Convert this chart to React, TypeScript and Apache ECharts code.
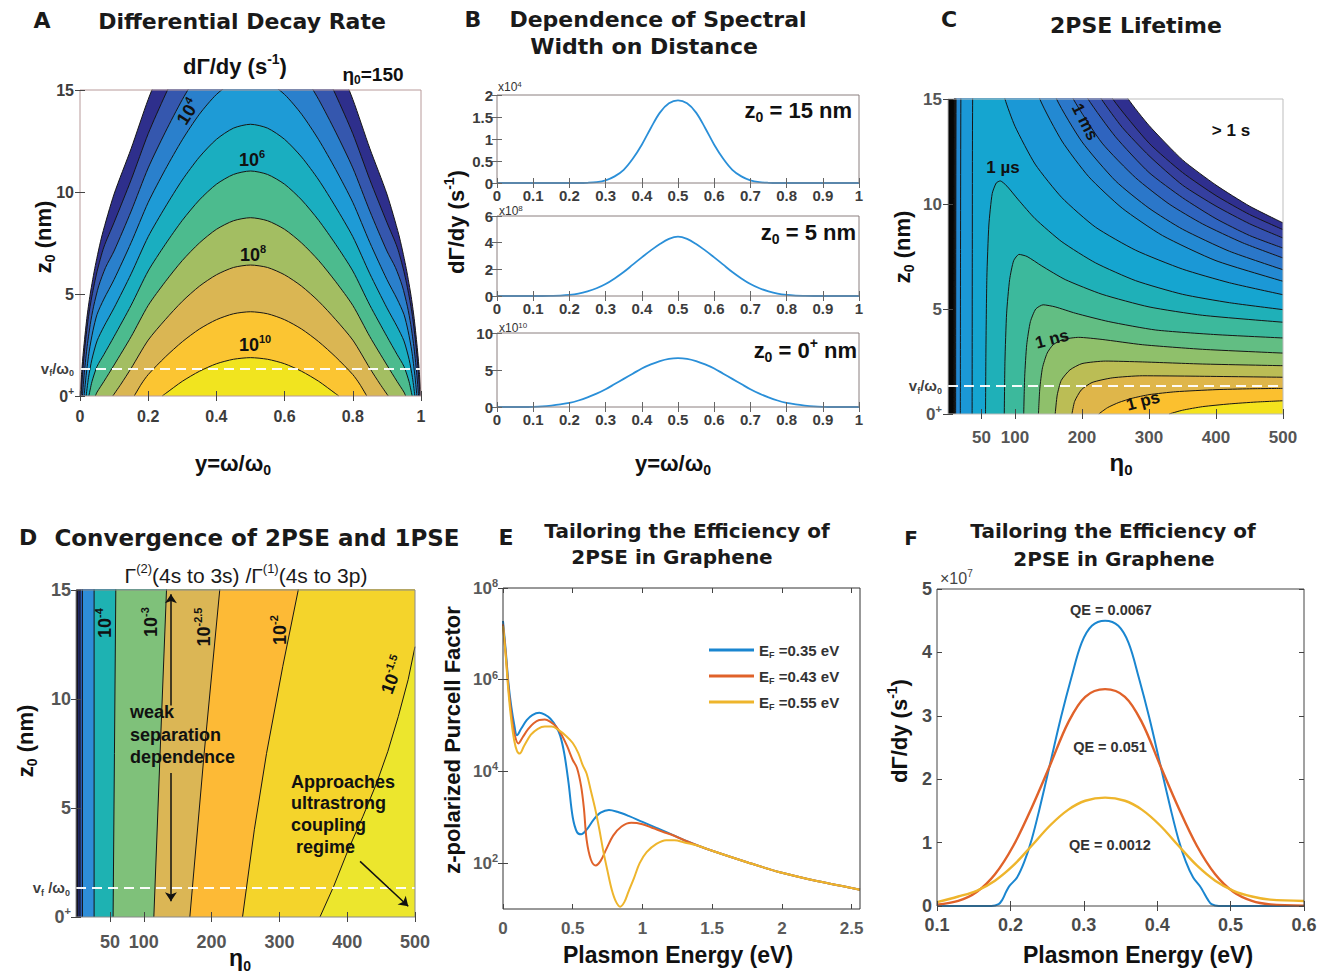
import React, { useEffect, useRef } from "react";
import * as echarts from "echarts";

const LAB = "'Liberation Sans', Arial, Helvetica, sans-serif";
const HEAVY = "'DejaVu Sans', 'Liberation Sans', Arial, sans-serif";

// ================= Panel A: contour lines of dΓ/dy, points [y=ω/ω0, z0 (nm)], outer (10^2) → inner =================
const aLine10 = [[0,0],[0.005,1.2],[0.01,2.2],[0.02,3.8],[0.03,5.0],[0.045,6.4],[0.065,7.9],[0.1,9.9],[0.15,12.13],[0.2,14.54],[0.25,16.59],[0.3,18.48],[0.35,20.11],[0.4,21.38],[0.45,22.2],[0.5,22.48],[0.55,22.2],[0.6,21.38],[0.65,20.11],[0.7,18.48],[0.75,16.59],[0.8,14.54],[0.85,12.13],[0.9,9.9],[0.935,7.9],[0.955,6.4],[0.97,5.0],[0.98,3.8],[0.99,2.2],[0.995,1.2],[1,0]];
const aLine9 = [[0.003,0],[0.008,1.2],[0.015,2.5],[0.025,3.9],[0.035,4.9],[0.05,6.1],[0.07,7.3],[0.1,8.51],[0.15,10.6],[0.2,12.86],[0.25,14.76],[0.3,16.51],[0.35,18.01],[0.4,19.18],[0.45,19.93],[0.5,20.19],[0.55,19.93],[0.6,19.18],[0.65,18.01],[0.7,16.51],[0.75,14.76],[0.8,12.86],[0.85,10.6],[0.9,8.51],[0.93,7.3],[0.95,6.1],[0.965,4.9],[0.975,3.9],[0.985,2.5],[0.992,1.2],[0.997,0]];
const aLine8 = [[0.007,0],[0.012,1.0],[0.02,2.3],[0.03,3.5],[0.04,4.4],[0.055,5.4],[0.075,6.3],[0.1,7.11],[0.15,9.06],[0.2,11.18],[0.25,12.93],[0.3,14.53],[0.35,15.91],[0.4,16.98],[0.45,17.66],[0.5,17.9],[0.55,17.66],[0.6,16.98],[0.65,15.91],[0.7,14.53],[0.75,12.93],[0.8,11.18],[0.85,9.06],[0.9,7.11],[0.925,6.3],[0.945,5.4],[0.96,4.4],[0.97,3.5],[0.98,2.3],[0.988,1.0],[0.993,0]];
const aLine7 = [[0.012,0],[0.018,1.0],[0.027,2.2],[0.038,3.2],[0.05,4.0],[0.07,4.75],[0.1,5.71],[0.15,7.52],[0.2,9.49],[0.25,11.1],[0.3,12.56],[0.35,13.81],[0.4,14.78],[0.45,15.4],[0.5,15.61],[0.55,15.4],[0.6,14.78],[0.65,13.81],[0.7,12.56],[0.75,11.1],[0.8,9.49],[0.85,7.52],[0.9,5.71],[0.93,4.75],[0.95,4.0],[0.962,3.2],[0.973,2.2],[0.982,1.0],[0.988,0]];
const aLine6 = [[0.018,0],[0.025,0.9],[0.035,1.8],[0.05,2.7],[0.07,3.4],[0.1,4.32],[0.15,5.99],[0.2,7.81],[0.25,9.26],[0.3,10.59],[0.35,11.71],[0.4,12.58],[0.45,13.13],[0.5,13.32],[0.55,13.13],[0.6,12.58],[0.65,11.71],[0.7,10.59],[0.75,9.26],[0.8,7.81],[0.85,5.99],[0.9,4.32],[0.93,3.4],[0.95,2.7],[0.965,1.8],[0.975,0.9],[0.982,0]];
const aLine5 = [[0.026,0],[0.035,0.7],[0.05,1.45],[0.07,2.03],[0.1,2.92],[0.15,4.45],[0.2,6.13],[0.25,7.43],[0.3,8.61],[0.35,9.61],[0.4,10.38],[0.45,10.86],[0.5,11.03],[0.55,10.86],[0.6,10.38],[0.65,9.61],[0.7,8.61],[0.75,7.43],[0.8,6.13],[0.85,4.45],[0.9,2.92],[0.93,2.03],[0.95,1.45],[0.965,0.7],[0.974,0]];
const aLine4 = [[0.045,0],[0.05,0.19],[0.07,0.71],[0.1,1.52],[0.15,2.91],[0.2,4.44],[0.25,5.6],[0.3,6.64],[0.35,7.5],[0.4,8.17],[0.45,8.59],[0.5,8.74],[0.55,8.59],[0.6,8.17],[0.65,7.5],[0.7,6.64],[0.75,5.6],[0.8,4.44],[0.85,2.91],[0.9,1.52],[0.93,0.71],[0.95,0.19],[0.955,0]];
const aLine3 = [[0.096,0],[0.12,0.58],[0.15,1.36],[0.2,2.74],[0.25,3.74],[0.3,4.64],[0.35,5.38],[0.4,5.94],[0.45,6.3],[0.5,6.42],[0.55,6.3],[0.6,5.94],[0.65,5.38],[0.7,4.64],[0.75,3.74],[0.8,2.74],[0.85,1.36],[0.88,0.58],[0.904,0]];
const aLine2 = [[0.159,0],[0.18,0.59],[0.2,1.05],[0.25,1.91],[0.3,2.66],[0.35,3.28],[0.4,3.74],[0.45,4.03],[0.5,4.13],[0.55,4.03],[0.6,3.74],[0.65,3.28],[0.7,2.66],[0.75,1.91],[0.8,1.05],[0.82,0.59],[0.841,0]];
const aLine1 = [[0.241,0],[0.25,0.11],[0.3,0.72],[0.35,1.21],[0.4,1.58],[0.45,1.8],[0.5,1.88],[0.55,1.8],[0.6,1.58],[0.65,1.21],[0.7,0.72],[0.75,0.11],[0.759,0]];
const aContours = [aLine10, aLine9, aLine8, aLine7, aLine6, aLine5, aLine4, aLine3, aLine2, aLine1];
const aFill = ["#2e2f8c", "#3557ae", "#2a80cc", "#1e9bd6", "#1aaec0", "#4cbb8e", "#a3be62", "#dab653", "#fbc532", "#f1e41f"];
const vfOverOmega0 = 1.35; // nm

// ================= Panel B: dΓ/dy vs y for three distances =================
const bX = [0,0.025,0.05,0.075,0.1,0.125,0.15,0.175,0.2,0.225,0.25,0.275,0.3,0.325,0.35,0.375,0.4,0.425,0.45,0.475,0.5,0.525,0.55,0.575,0.6,0.625,0.65,0.675,0.7,0.725,0.75,0.775,0.8,0.825,0.85,0.875,0.9,0.925,0.95,0.975,1];
const bZ15 = [0,0,0,0,0,0,0,0,0,0,0.005,0.02,0.06,0.15,0.3,0.55,0.87,1.25,1.6,1.81,1.88,1.81,1.6,1.25,0.87,0.55,0.3,0.15,0.06,0.02,0.005,0,0,0,0,0,0,0,0,0,0]; // x10^4
const bZ5 = [0,0,0,0,0,0,0.01,0.03,0.08,0.18,0.35,0.58,0.9,1.32,1.8,2.35,2.9,3.42,3.9,4.28,4.45,4.28,3.9,3.42,2.9,2.35,1.8,1.32,0.9,0.58,0.35,0.18,0.08,0.03,0.01,0,0,0,0,0,0]; // x10^8
const bZ0 = [0,0,0,0,0.03,0.09,0.2,0.35,0.55,0.88,1.3,1.8,2.4,3.1,3.8,4.5,5.2,5.75,6.2,6.5,6.6,6.5,6.2,5.75,5.2,4.5,3.8,3.1,2.4,1.8,1.3,0.88,0.55,0.35,0.2,0.09,0.03,0,0,0,0]; // x10^10

// ================= Panel C: 2PSE lifetime contours, points [η0, z0], outer (1 s) → inner =================
const cT1 = [[9,0],[9.2,8],[9.6,16],[11,21],[30,24],[100,23],[180,20.5],[230,17.1],[269,15],[300,13.74],[350,12.1],[400,10.9],[450,9.9],[500,9.1]];
const cT2 = [[9.3,0],[9.5,8],[9.9,16],[11.5,21],[30,23.5],[100,23],[150,21.8],[200,17.5],[246,15],[300,12.9],[350,11.5],[400,10.4],[450,9.5],[500,8.78]];
const cT3 = [[9.6,0],[9.8,8],[10.2,16],[12,21],[30,23],[100,22.5],[160,19.5],[200,16.6],[229,15],[260,13.65],[300,12.3],[350,10.9],[400,9.9],[450,9.06],[500,8.38]];
const cT4 = [[9.9,0],[10.1,8],[10.6,16],[12.5,21],[30,23],[100,22],[150,19.1],[180,16.7],[209,15],[250,13.2],[300,11.5],[350,10.3],[400,9.3],[450,8.5],[500,7.9]];
const cT5 = [[10.5,0],[10.7,8],[11.2,16],[13,21],[30,22.5],[90,21],[150,17.5],[187,15],[230,12.9],[280,11.25],[330,10],[380,9.05],[440,8.15],[500,7.43]];
const cT6 = [[11.4,0],[11.6,8],[12.2,16],[14,21],[30,22],[80,21],[120,18.5],[162,15],[200,12.96],[250,11.1],[300,9.8],[350,8.8],[420,7.75],[500,6.87]];
const cT7 = [[18.4,0],[18.7,8],[19.4,16],[22,20],[40,21.5],[70,20.5],[100,18.5],[137,15],[170,13],[210,11.3],[260,9.8],[320,8.5],[400,7.3],[500,6.32]];
const cA1 = [[36,0],[36.3,8],[36.8,15],[39,17.5],[50,18.2],[65,17.5],[85,15],[100,13.7],[130,11.9],[170,10.3],[220,8.9],[280,7.8],[350,6.9],[420,6.25],[500,5.68]];
const cK1 = [[56,0],[56.6,3],[58,6.5],[61,9],[66,10.5],[72,11],[78,11.1],[88,10.85],[105,10.2],[130,9.3],[170,8.2],[220,7.2],[280,6.35],[350,5.7],[420,5.3],[500,4.97]];
const cK2 = [[84,0],[85,2.5],[87.5,4.8],[92,6.4],[98,7.3],[106,7.6],[118,7.5],[140,7.05],[175,6.4],[230,5.7],[300,5.1],[380,4.7],[500,4.37]];
const cK3 = [[113,0],[114.5,1.8],[117.5,3.3],[123,4.4],[131,5],[142,5.2],[160,5.1],[190,4.8],[240,4.4],[310,4],[400,3.78],[500,3.62]];
const cK4 = [[135,0],[137,1.2],[141,2.2],[148,2.9],[157,3.3],[172,3.55],[195,3.65],[230,3.55],[290,3.3],[380,3.08],[500,2.9]];
const cK5 = [[160,0],[163,0.9],[169,1.6],[182,2.1],[200,2.4],[235,2.52],[290,2.48],[380,2.38],[500,2.3]];
const cK6 = [[185,0],[189,0.6],[199,1.15],[215,1.5],[245,1.72],[290,1.82],[370,1.8],[500,1.75]];
const cK7 = [[225,0],[238,0.3],[255,0.55],[275,0.75],[300,0.92],[340,1.06],[400,1.16],[450,1.2],[500,1.22]];
const cK8 = [[330,0],[350,0.18],[380,0.35],[420,0.48],[460,0.57],[500,0.63]];
const cContours = [cT1, cT2, cT3, cT4, cT5, cT6, cT7, cA1, cK1, cK2, cK3, cK4, cK5, cK6, cK7, cK8];
const cFill = ["#2f2f8f", "#353f9f", "#3452b0", "#2f64bf", "#2b77c9", "#2389d2", "#1b98d6", "#15a5d0", "#1fb0b8", "#3cb99c", "#62be83", "#8fc06b", "#bbbd55", "#dfb64a", "#fbc02f", "#f4e31d"];
const cStrip = [[0,16],[10,16]];

// ================= Panel D: Γ(2)/Γ(1) contours, points [η0, z0]; region right of each line =================
const dBase = [[0,16],[500,16]];
const dS1 = [[2.5,0],[2.5,16],[500,16]];
const dS2 = [[6,0],[6,16],[500,16]];
const dS3 = [[9.5,0],[9.5,16],[500,16]];
const dLa = [[26.7,0],[26.7,16],[500,16]];
const dLb = [[54.7,0],[56.7,7.5],[58.7,15],[58.8,16],[500,16]];
const dLc = [[114.8,0],[124,7.5],[133.5,15],[133.6,16],[500,16]];
const dLd = [[167.9,0],[189,7.5],[212,15],[212.1,16],[500,16]];
const dLe = [[245.6,0],[263,4],[281,7.5],[305,11.5],[327.8,15],[328,16],[500,16]];
const dLf = [[359.8,0],[380,1.4],[401.6,3.09],[423,4.6],[443.4,6.14],[460,7.6],[475.4,9.2],[490,10.9],[500,12.4]];
const dContours = [dBase, dS1, dS2, dS3, dLa, dLb, dLc, dLd, dLe, dLf];
const dFill = ["#0c0c1c", "#212c7a", "#2b5fbf", "#2e8dd8", "#1eb2b2", "#7fc17a", "#dbb655", "#fdba36", "#f4d42b", "#ece62d"];

// ================= Panel E: z-polarized Purcell factor (log10 values) =================
const eBlueX = [0,0.01,0.02,0.04,0.06,0.08,0.1,0.13,0.17,0.21,0.26,0.3,0.34,0.38,0.41,0.44,0.47,0.5,0.53,0.56,0.6,0.65,0.7,0.76,0.82,0.9,1.0,1.1,1.2,1.3,1.4,1.5,1.75,2.0,2.25,2.5,2.56];
const eBlueLog = [7.28,6.95,6.62,5.9,5.4,5.03,4.79,4.93,5.12,5.23,5.28,5.24,5.15,4.98,4.78,4.38,3.75,3.0,2.68,2.63,2.73,2.95,3.1,3.16,3.12,3.03,2.9,2.77,2.64,2.5,2.38,2.27,2.02,1.79,1.61,1.46,1.42];
const eRedX = [0,0.01,0.02,0.04,0.06,0.08,0.11,0.14,0.18,0.22,0.26,0.3,0.34,0.38,0.42,0.46,0.5,0.53,0.56,0.58,0.6,0.63,0.665,0.7,0.74,0.79,0.85,0.92,1.0,1.08,1.15,1.2,1.3,1.4,1.5,1.75,2.0,2.25,2.5,2.56];
const eRedLog = [7.21,6.88,6.55,5.8,5.25,4.85,4.61,4.74,4.92,5.05,5.12,5.13,5.08,4.98,4.8,4.55,4.25,4.08,3.68,3.2,2.5,2.08,1.95,2.05,2.3,2.6,2.8,2.88,2.85,2.76,2.68,2.63,2.5,2.38,2.27,2.02,1.79,1.61,1.46,1.42];
const eYelX = [0,0.01,0.02,0.04,0.06,0.08,0.1,0.12,0.15,0.2,0.25,0.3,0.35,0.4,0.45,0.5,0.54,0.57,0.6,0.63,0.66,0.69,0.72,0.75,0.78,0.81,0.84,0.87,0.9,0.94,0.98,1.03,1.1,1.17,1.23,1.3,1.4,1.5,1.75,2.0,2.25,2.5,2.56];
const eYelLog = [7.17,6.84,6.5,5.7,5.1,4.68,4.45,4.39,4.55,4.8,4.93,4.98,4.98,4.9,4.78,4.62,4.4,4.15,3.95,3.58,3.2,2.75,2.25,1.82,1.42,1.16,1.05,1.15,1.38,1.68,2.0,2.24,2.42,2.5,2.5,2.45,2.38,2.27,2.02,1.79,1.61,1.46,1.42];
const eNames = ["EF =0.35 eV", "EF =0.43 eV", "EF =0.55 eV"];

// ================= Panel F: dΓ/dy (x10^7 s^-1) vs plasmon energy =================
const fBlueX = [0.1,0.15,0.174,0.184,0.189,0.194,0.199,0.209,0.219,0.229,0.239,0.254,0.269,0.283,0.297,0.311,0.329,0.347,0.361,0.375,0.389,0.404,0.419,0.429,0.439,0.449,0.459,0.464,0.469,0.474,0.484,0.55,0.6];
const fBlue = [0,0,0,0.03,0.1,0.22,0.32,0.45,0.7,1.05,1.5,2.24,2.98,3.6,4.15,4.42,4.5,4.42,4.15,3.6,2.98,2.24,1.5,1.05,0.7,0.45,0.3,0.2,0.1,0.03,0,0,0];
const fRedX = [0.1,0.129,0.154,0.179,0.204,0.229,0.254,0.279,0.302,0.329,0.356,0.379,0.404,0.429,0.454,0.479,0.504,0.529,0.554,0.6];
const fRed = [0.02,0.08,0.22,0.5,0.95,1.55,2.22,2.9,3.3,3.42,3.3,2.9,2.22,1.55,0.95,0.5,0.22,0.08,0.025,0.005];
const fYel = [0.06,0.15,0.24,0.4,0.64,0.95,1.27,1.52,1.66,1.71,1.66,1.52,1.27,0.95,0.64,0.4,0.24,0.15,0.1,0.08];

const BLUE = "#1a86d0", RED = "#e0622a", YEL = "#eeb52c";

function rich(fs: number, color: string, weight: any = "bold", family = LAB) {
  const s = Math.max(8, Math.round(fs * 0.62));
  const common = { fontSize: s, lineHeight: s, fontWeight: weight, fontFamily: family, color, fill: color };
  return { sup: { ...common, verticalAlign: "top" }, sub: { ...common, verticalAlign: "bottom" } };
}

function txt(text: string, x: number, y: number, size: number, o: any = {}) {
  const color = o.color || "#111";
  const weight = o.weight || "bold";
  const family = o.family || LAB;
  return {
    type: "text", x, y, rotation: o.rot || 0, z: 100, silent: true,
    style: {
      text, fill: color, fontSize: size, fontWeight: weight, fontFamily: family,
      align: o.align || "center", verticalAlign: "middle", lineHeight: o.lh || Math.round(size * 1.25),
      rich: rich(size, color, weight, family),
    },
  };
}

const grids = [
  { l: 80, t: 90, w: 341, h: 306, bc: "#b89a9a" },   // A
  { l: 497, t: 95, w: 362, h: 88, bc: "#8a7f7f" },   // B1
  { l: 497, t: 216, w: 362, h: 80, bc: "#8a7f7f" },  // B2
  { l: 497, t: 333, w: 362, h: 74, bc: "#8a7f7f" },  // B3
  { l: 948, t: 99, w: 335, h: 315, bc: "#bdbdbd" },  // C
  { l: 76, t: 590, w: 339, h: 327, bc: "#8a8a8a" },  // D
  { l: 503, t: 588, w: 357, h: 321, bc: "#333333" }, // E
  { l: 937, t: 589, w: 367, h: 317, bc: "#444444" }, // F
];

function axisPair(gi: number, kind: "x" | "y", c: any) {
  const base: any = {
    gridIndex: gi, type: c.type || "value", min: c.min, max: c.max, z: 12,
    splitLine: { show: false }, axisLine: { show: false },
  };
  if (c.interval !== undefined) base.interval = c.interval;
  if (c.logBase) base.logBase = c.logBase;
  const tick: any = { show: true, inside: true, length: 5, lineStyle: { color: c.tickColor || "#444", width: 1 } };
  if (c.custom) tick.customValues = c.custom;
  const label: any = {
    show: true, margin: c.margin, color: c.color || "#3c3c3c", fontSize: c.fs, fontWeight: "bold", fontFamily: LAB,
    lineHeight: c.lh || Math.round(c.fs * 1.25), rich: rich(c.fs, c.color || "#3c3c3c"), hideOverlap: false,
    showMinLabel: true, showMaxLabel: true,
  };
  if (c.fmt) label.formatter = c.fmt;
  if (c.custom) label.customValues = c.custom;
  const main = { ...base, position: kind === "x" ? "bottom" : "left", axisTick: tick, axisLabel: label };
  const mirror = { ...base, position: kind === "x" ? "top" : "right", axisTick: tick, axisLabel: { show: false } };
  return [main, mirror];
}

const zeroPlus = (v: number) => (v === 0 ? "0{sup|+}" : String(v));
const dec1 = (v: number) => String(+(+v).toFixed(2));

function contour(gi: number, data: number[][], color: string, smooth: any) {
  return {
    type: "line", xAxisIndex: 2 * gi, yAxisIndex: 2 * gi, data, smooth, symbol: "none", showSymbol: false,
    silent: true, clip: true, z: 2,
    lineStyle: { color: "#161616", width: 1 }, areaStyle: { color, opacity: 1 },
  };
}

function dashed(gi: number, label: string) {
  return {
    type: "line", xAxisIndex: 2 * gi, yAxisIndex: 2 * gi, data: [], silent: true, z: 3,
    markLine: {
      silent: true, symbol: ["none", "none"], animation: false,
      data: [{ yAxis: vfOverOmega0 }],
      lineStyle: { color: "#ffffff", type: [10, 6], width: 2, opacity: 0.95 },
      label: {
        show: true, position: "start", formatter: label, distance: 6, color: "#333", fontSize: 15,
        fontWeight: "bold", fontFamily: LAB, lineHeight: 19, rich: rich(15, "#333"),
      },
    },
  };
}

function plain(gi: number, name: string | undefined, xs: number[], ys: number[], color: string, width: number) {
  return {
    type: "line", name, xAxisIndex: 2 * gi, yAxisIndex: 2 * gi, data: xs.map((x, i) => [x, ys[i]]),
    smooth: 0.35, symbol: "none", showSymbol: false, silent: true, clip: true, z: 4,
    lineStyle: { color, width }, itemStyle: { color },
  };
}

function buildOption() {
  const xAxis: any[] = [];
  const yAxis: any[] = [];
  // A
  xAxis.push(...axisPair(0, "x", { min: 0, max: 1, interval: 0.2, fs: 16, margin: 10, fmt: dec1 }));
  yAxis.push(...axisPair(0, "y", { min: 0, max: 15, interval: 5, fs: 16, margin: 6, fmt: zeroPlus }));
  // B1..B3
  const bY = [{ max: 2, interval: 0.5 }, { max: 6, interval: 2 }, { max: 10, interval: 5 }];
  for (let k = 0; k < 3; k++) {
    xAxis.push(...axisPair(1 + k, "x", { min: 0, max: 1, interval: 0.1, fs: 15, lh: 15, margin: 5, fmt: dec1, tickColor: "#666" }));
    yAxis.push(...axisPair(1 + k, "y", { min: 0, max: bY[k].max, interval: bY[k].interval, fs: 15, lh: 15, margin: 4, fmt: dec1, tickColor: "#666" }));
  }
  // C
  xAxis.push(...axisPair(4, "x", { min: 0, max: 500, interval: 50, custom: [50, 100, 200, 300, 400, 500], fs: 17, margin: 13, color: "#555" }));
  yAxis.push(...axisPair(4, "y", { min: 0, max: 15, interval: 5, fs: 17, margin: 6, fmt: zeroPlus, color: "#555" }));
  // D
  xAxis.push(...axisPair(5, "x", { min: 0, max: 500, interval: 50, custom: [50, 100, 200, 300, 400, 500], fs: 18, margin: 13, color: "#555" }));
  yAxis.push(...axisPair(5, "y", { min: 0, max: 15, interval: 5, fs: 18, margin: 5, fmt: zeroPlus, color: "#555" }));
  // E
  xAxis.push(...axisPair(6, "x", { min: 0, max: 2.56, custom: [0, 0.5, 1, 1.5, 2, 2.5], fs: 17, margin: 9, color: "#5a5a5a", fmt: dec1 }));
  yAxis.push(...axisPair(6, "y", {
    type: "log", logBase: 10, min: 10, max: 1e8, custom: [1e2, 1e4, 1e6, 1e8], fs: 17, margin: 5, color: "#5a5a5a",
    fmt: (v: number) => { const e = Math.round(Math.log10(v)); return e % 2 === 0 ? "10{sup|" + e + "}" : ""; },
  }));
  // F
  xAxis.push(...axisPair(7, "x", { min: 0.1, max: 0.6, interval: 0.1, fs: 18, margin: 7, color: "#4a4a4a", fmt: (v: number) => (+v).toFixed(1) }));
  yAxis.push(...axisPair(7, "y", { min: 0, max: 5, interval: 1, fs: 18, margin: 5, color: "#4a4a4a" }));

  const series: any[] = [];
  aContours.forEach((d, i) => series.push(contour(0, d, aFill[i], 0.25)));
  series.push(dashed(0, "v{sub|f}/ω{sub|0}"));

  series.push(plain(1, undefined, bX, bZ15, "#2a8fd8", 1.8));
  series.push(plain(2, undefined, bX, bZ5, "#2a8fd8", 1.8));
  series.push(plain(3, undefined, bX, bZ0, "#2a8fd8", 1.8));

  cContours.forEach((d, i) => series.push(contour(4, d, cFill[i], 0.2)));
  series.push({ ...contour(4, cStrip, "#050505", false), lineStyle: { width: 0, color: "#000" } });
  series.push(dashed(4, "v{sub|f}/ω{sub|0}"));

  dContours.forEach((d, i) => series.push(contour(5, d, dFill[i], false)));
  series.push(dashed(5, "v{sub|f} /ω{sub|0}"));
  series.push({
    type: "line", xAxisIndex: 10, yAxisIndex: 10, data: [], silent: true, z: 3,
    markLine: {
      silent: true, symbol: ["none", "arrow"], symbolSize: 9, animation: false,
      label: { show: false },
      lineStyle: { color: "#111", width: 1.5, type: "solid" },
      data: [
        [{ coord: [140, 9.7] }, { coord: [140, 14.8] }],
        [{ coord: [140, 6.6] }, { coord: [140, 0.72] }],
        [{ coord: [419, 2.55] }, { coord: [490, 0.49] }],
      ],
    },
  });

  series.push(plain(6, eNames[0], eBlueX, eBlueLog.map((v) => Math.pow(10, v)), BLUE, 2));
  series.push(plain(6, eNames[1], eRedX, eRedLog.map((v) => Math.pow(10, v)), RED, 2));
  series.push(plain(6, eNames[2], eYelX, eYelLog.map((v) => Math.pow(10, v)), YEL, 2));

  series.push(plain(7, undefined, fBlueX, fBlue, BLUE, 2));
  series.push(plain(7, undefined, fRedX, fRed, RED, 2.4));
  series.push(plain(7, undefined, fRedX, fYel, YEL, 2.4));

  const HC = "#1a1a1a";
  const texts = [
    txt("A", 42, 20, 22, { family: HEAVY, color: HC }),
    txt("B", 473, 19, 22, { family: HEAVY, color: HC }),
    txt("C", 949, 19, 22, { family: HEAVY, color: HC }),
    txt("D", 28, 537, 22, { family: HEAVY, color: HC }),
    txt("E", 506, 537, 22, { family: HEAVY, color: HC }),
    txt("F", 911, 538, 20, { family: HEAVY, color: HC }),
    txt("Differential Decay Rate", 242, 21, 22, { family: HEAVY, color: HC }),
    txt("Dependence of Spectral", 658, 19, 22, { family: HEAVY, color: HC }),
    txt("Width on Distance", 644, 46, 22, { family: HEAVY, color: HC }),
    txt("2PSE Lifetime", 1136, 25, 22, { family: HEAVY, color: HC }),
    txt("Convergence of 2PSE and 1PSE", 257, 538, 23, { family: HEAVY, color: HC }),
    txt("Tailoring the Efficiency of", 687, 531, 20, { family: HEAVY, color: HC }),
    txt("2PSE in Graphene", 672, 557, 20, { family: HEAVY, color: HC }),
    txt("Tailoring the Efficiency of", 1113, 531, 20, { family: HEAVY, color: HC }),
    txt("2PSE in Graphene", 1114, 559, 20, { family: HEAVY, color: HC }),
    // A
    txt("dΓ/dy (s{sup|-1})", 235, 66, 22),
    txt("η{sub|0}=150", 373, 74, 19),
    txt("z{sub|0} (nm)", 43, 237, 22, { rot: Math.PI / 2 }),
    txt("y=ω/ω{sub|0}", 233, 463, 22),
    txt("10{sup|4}", 188, 112, 18, { rot: 1.0 }),
    txt("10{sup|6}", 252, 160, 18),
    txt("10{sup|8}", 253, 255, 18),
    txt("10{sup|10}", 255, 345, 18),
    // B
    txt("dΓ/dy (s{sup|-1})", 456, 222, 22, { rot: Math.PI / 2 }),
    txt("y=ω/ω{sub|0}", 673, 463, 22),
    txt("x10{sup|4}", 498, 87, 12, { align: "left", weight: "normal", color: "#333", lh: 13 }),
    txt("x10{sup|8}", 499, 211, 12, { align: "left", weight: "normal", color: "#333", lh: 13 }),
    txt("x10{sup|10}", 499, 328, 12, { align: "left", weight: "normal", color: "#333", lh: 13 }),
    txt("z{sub|0} = 15 nm", 852, 110, 22, { align: "right" }),
    txt("z{sub|0} = 5 nm", 856, 232, 22, { align: "right" }),
    txt("z{sub|0} = 0{sup|+} nm", 857, 350, 22, { align: "right" }),
    // C
    txt("z{sub|0} (nm)", 902, 247, 22, { rot: Math.PI / 2 }),
    txt("η{sub|0}", 1121, 462, 24),
    txt("> 1 s", 1231, 130, 17),
    txt("1 ms", 1085, 122, 17, { rot: -1.1 }),
    txt("1 µs", 1003, 167, 17),
    txt("1 ns", 1052, 339, 17, { rot: 0.26 }),
    txt("1 ps", 1143, 401, 17, { rot: 0.26 }),
    // D
    txt("Γ{sup|(2)}(4s to 3s) /Γ{sup|(1)}(4s to 3p)", 246, 575, 21, { weight: "normal", color: "#1a1a1a" }),
    txt("z{sub|0} (nm)", 25, 741, 22, { rot: Math.PI / 2 }),
    txt("η{sub|0}", 240, 958, 23),
    txt("10{sup|-4}", 105, 623, 18, { rot: Math.PI / 2 }),
    txt("10{sup|-3}", 151, 622, 18, { rot: Math.PI / 2 }),
    txt("10{sup|-2.5}", 204, 627, 18, { rot: Math.PI / 2 }),
    txt("10{sup|-2}", 280, 630, 18, { rot: Math.PI / 2 }),
    txt("10{sup|-1.5}", 393, 675, 18, { rot: 1.22 }),
    txt("weak", 130, 712, 18, { align: "left" }),
    txt("separation", 130, 735, 18, { align: "left" }),
    txt("dependence", 130, 757, 18, { align: "left" }),
    txt("Approaches", 291, 782, 18, { align: "left" }),
    txt("ultrastrong", 291, 803, 18, { align: "left" }),
    txt("coupling", 291, 825, 18, { align: "left" }),
    txt("regime", 296, 847, 18, { align: "left" }),
    // E
    txt("z-polarized Purcell Factor", 452, 740, 22, { rot: Math.PI / 2 }),
    txt("Plasmon Energy (eV)", 678, 955, 23),
    // F
    txt("×10{sup|7}", 940, 578, 16, { align: "left", weight: "normal", color: "#444" }),
    txt("dΓ/dy (s{sup|-1})", 899, 731, 22, { rot: Math.PI / 2 }),
    txt("Plasmon Energy (eV)", 1138, 955, 23),
    txt("QE = 0.0067", 1111, 610, 14.5, { color: "#333" }),
    txt("QE = 0.051", 1110, 747, 14.5, { color: "#333" }),
    txt("QE = 0.0012", 1110, 845, 14.5, { color: "#333" }),
  ];

  return {
    animation: false,
    backgroundColor: "#ffffff",
    grid: grids.map((g) => ({
      left: g.l, top: g.t, width: g.w, height: g.h, show: true, borderColor: g.bc, borderWidth: 1,
      backgroundColor: "transparent", z: 10, containLabel: false,
    })),
    xAxis, yAxis, series,
    legend: {
      show: true, data: eNames, left: 704, top: 636, orient: "vertical", itemWidth: 45, itemHeight: 3,
      itemGap: 8, icon: "rect", selectedMode: false,
      formatter: (n: string) => n.replace("EF", "E{sub|F}"),
      textStyle: { fontSize: 15, fontWeight: "bold", color: "#333", fontFamily: LAB, lineHeight: 18, rich: rich(15, "#333") },
    },
    graphic: { elements: texts },
  };
}

export default function App() {
  const ref = useRef<HTMLDivElement>(null);
  useEffect(() => {
    if (!ref.current) return;
    const chart = echarts.init(ref.current, undefined, { renderer: "svg" });
    chart.setOption(buildOption() as any);
    return () => chart.dispose();
  }, []);
  return <div ref={ref} style={{ position: "fixed", left: 0, top: 0, width: 1326, height: 977, background: "#fff" }} />;
}
